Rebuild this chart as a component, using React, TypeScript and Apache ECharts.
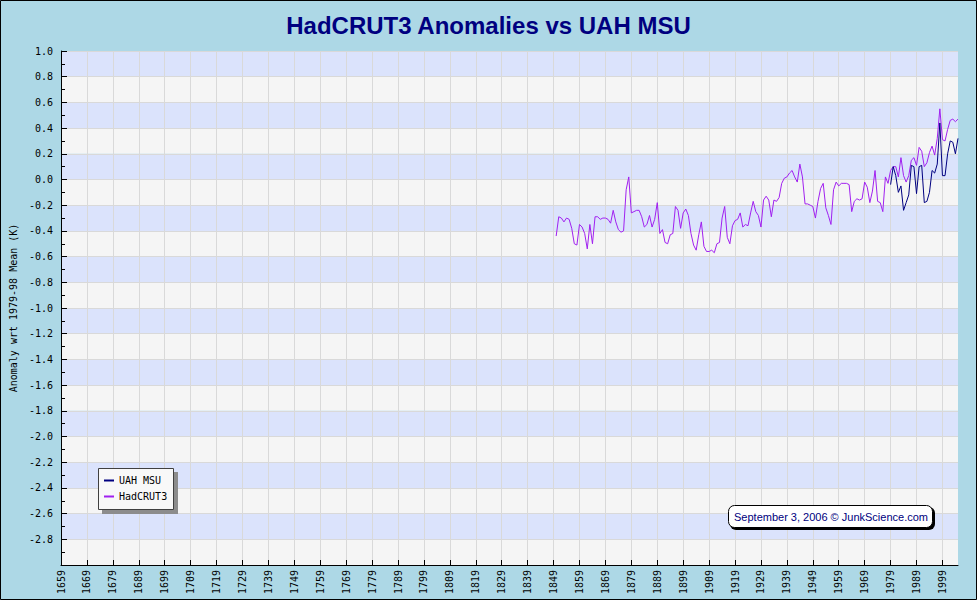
import React, { useEffect, useRef } from "react";
import * as echarts from "echarts";

// ---- Data ----
const firstYear = 1659;
const lastYear = 2005;
const years: string[] = [];
for (let y = firstYear; y <= lastYear; y++) years.push(String(y));

const hadcrutStart = 1850;
const hadcrutValues: number[] = [
  // 1850-1859
  -0.44, -0.29, -0.30, -0.33, -0.30, -0.31, -0.38, -0.50, -0.51, -0.35,
  // 1860-1869
  -0.37, -0.42, -0.54, -0.35, -0.50, -0.29, -0.29, -0.31, -0.30, -0.30,
  // 1870-1879
  -0.31, -0.34, -0.24, -0.33, -0.39, -0.41, -0.40, -0.08, 0.02, -0.26,
  // 1880-1889
  -0.25, -0.24, -0.24, -0.29, -0.37, -0.35, -0.28, -0.37, -0.31, -0.18,
  // 1890-1899
  -0.42, -0.39, -0.49, -0.50, -0.43, -0.42, -0.21, -0.24, -0.38, -0.26,
  // 1900-1909
  -0.23, -0.28, -0.42, -0.51, -0.55, -0.43, -0.33, -0.52, -0.56, -0.56,
  // 1910-1919
  -0.55, -0.57, -0.50, -0.49, -0.30, -0.21, -0.45, -0.50, -0.36, -0.32,
  // 1920-1929
  -0.31, -0.26, -0.37, -0.35, -0.36, -0.26, -0.17, -0.25, -0.28, -0.37,
  // 1930-1939
  -0.16, -0.13, -0.16, -0.29, -0.16, -0.17, -0.14, -0.03, 0.01, 0.02,
  // 1940-1949
  0.05, 0.07, 0.02, -0.02, 0.12, 0.02, -0.19, -0.19, -0.20, -0.21,
  // 1950-1959
  -0.30, -0.17, -0.07, -0.03, -0.22, -0.28, -0.35, -0.08, -0.02, -0.05,
  // 1960-1969
  -0.03, -0.03, -0.03, -0.04, -0.25, -0.17, -0.15, -0.16, -0.15, -0.02,
  // 1970-1979
  -0.06, -0.18, -0.09, 0.07, -0.17, -0.18, -0.25, 0.02, -0.03, 0.07,
  // 1980-1989
  0.10, 0.10, 0.02, 0.17, 0.03, -0.02, 0.03, 0.15, 0.17, 0.11,
  // 1990-1999
  0.25, 0.22, 0.10, 0.13, 0.21, 0.26, 0.19, 0.32, 0.55, 0.31,
  // 2000-2005
  0.30, 0.39, 0.46, 0.47, 0.45, 0.47,
];

const uahStart = 1979;
const uahValues: number[] = [
  // 1979-1989
  -0.04, 0.10, 0.03, -0.10, -0.05, -0.24, -0.18, -0.12, 0.11, 0.10, -0.11,
  // 1990-1999
  0.10, 0.11, -0.18, -0.17, -0.10, 0.07, 0.05, 0.12, 0.44, 0.03,
  // 2000-2005
  0.03, 0.20, 0.30, 0.29, 0.20, 0.32,
];

const seriesNames = ["UAH MSU", "HadCRUT3"];
const seriesColors = { "UAH MSU": "#000080", HadCRUT3: "#a020f0" };
const titleText = "HadCRUT3 Anomalies vs UAH MSU";
const yAxisName = "Anomaly wrt 1979-98 Mean (K)";
const creditText = "September 3, 2006 \u00A9 JunkScience.com";

function align(start: number, values: number[]): (number | null)[] {
  return years.map((y) => {
    const i = Number(y) - start;
    return i >= 0 && i < values.length ? values[i] : null;
  });
}

const MONO = '"DejaVu Sans Mono", "Liberation Mono", monospace';
const SANS = '"Liberation Sans", Arial, sans-serif';

export default function App() {
  const ref = useRef<HTMLDivElement>(null);
  useEffect(() => {
    if (!ref.current) return;
    const chart = echarts.init(ref.current, undefined, { renderer: "svg" });
    chart.setOption({
      animation: false,
      backgroundColor: "#add8e6",
      title: {
        text: titleText,
        left: "center",
        top: 8,
        textStyle: {
          color: "#000080",
          fontFamily: SANS,
          fontWeight: "bold",
          fontSize: 24,
        },
      },
      grid: { left: 60, right: 19, top: 51, bottom: 35, containLabel: false },
      legend: {
        data: seriesNames,
        orient: "vertical",
        left: 104,
        top: 475,
        padding: 0,
        itemWidth: 10,
        itemHeight: 2,
        itemGap: 5,
        icon: "rect",
        z: 10,
        textStyle: { fontFamily: MONO, fontSize: 10, color: "#000", lineHeight: 11 },
      },
      xAxis: {
        type: "category",
        data: years,
        boundaryGap: false,
        axisLine: { onZero: false, lineStyle: { color: "#000", width: 1 } },
        axisTick: { inside: true, length: 5, interval: 9, lineStyle: { color: "#000" } },
        axisLabel: {
          interval: 9,
          rotate: 90,
          margin: 5,
          fontFamily: MONO,
          fontSize: 10,
          color: "#000",
        },
        splitLine: { show: true, interval: 9, lineStyle: { color: "#d9d9d9" } },
      },
      yAxis: {
        type: "value",
        min: -3,
        max: 1,
        interval: 0.2,
        name: yAxisName,
        nameLocation: "middle",
        nameGap: 43,
        nameTextStyle: { fontFamily: MONO, fontSize: 10, color: "#000" },
        axisLine: { show: true, onZero: false, lineStyle: { color: "#000", width: 1 } },
        axisTick: { show: true, inside: true, length: 6, lineStyle: { color: "#000" } },
        minorTick: { show: true, splitNumber: 2, length: 4, lineStyle: { color: "#000" } },
        axisLabel: {
          margin: 8,
          fontFamily: MONO,
          fontSize: 10,
          color: "#000",
          formatter: (v: number) => (v < -2.9 ? "" : v.toFixed(1)),
        },
        splitLine: { show: true, lineStyle: { color: "#d9d9d9" } },
        splitArea: { show: true, areaStyle: { color: ["#f5f5f5", "#dbe3fc"] } },
      },
      series: [
        {
          name: "HadCRUT3",
          type: "line",
          data: align(hadcrutStart, hadcrutValues),
          showSymbol: false,
          symbol: "none",
          connectNulls: false,
          lineStyle: { color: seriesColors.HadCRUT3, width: 1 },
          itemStyle: { color: seriesColors.HadCRUT3 },
        },
        {
          name: "UAH MSU",
          type: "line",
          data: align(uahStart, uahValues),
          showSymbol: false,
          symbol: "none",
          connectNulls: false,
          lineStyle: { color: seriesColors["UAH MSU"], width: 1 },
          itemStyle: { color: seriesColors["UAH MSU"] },
        },
      ],
      graphic: [
        {
          type: "rect",
          z: 5,
          silent: true,
          shape: { x: 102, y: 472, width: 76, height: 42 },
          style: { fill: "#8c8c8c" },
        },
        {
          type: "rect",
          z: 6,
          silent: true,
          shape: { x: 98.5, y: 468.5, width: 75, height: 41 },
          style: { fill: "#f8f8f8", stroke: "#404040", lineWidth: 1 },
        },
        {
          type: "rect",
          z: 5,
          silent: true,
          shape: { x: 730, y: 507, width: 205, height: 23, r: 6 },
          style: { fill: "#000" },
        },
        {
          type: "rect",
          z: 6,
          silent: true,
          shape: { x: 728.5, y: 505.5, width: 204, height: 22, r: 6 },
          style: { fill: "#ffffff", stroke: "#000", lineWidth: 1 },
        },
        {
          type: "text",
          z: 7,
          silent: true,
          x: 831,
          y: 517,
          style: {
            text: creditText,
            fill: "#000080",
            font: '11px "Liberation Sans", Arial, sans-serif',
            align: "center",
            verticalAlign: "middle",
          },
        },
        {
          type: "rect",
          z: 100,
          silent: true,
          shape: { x: 0.5, y: 0.5, width: 976, height: 599 },
          style: { fill: "none", stroke: "#000", lineWidth: 1 },
        },
      ],
    });
    return () => chart.dispose();
  }, []);
  return (
    <div
      ref={ref}
      style={{ position: "fixed", left: 0, top: 0, width: 977, height: 600 }}
    />
  );
}
